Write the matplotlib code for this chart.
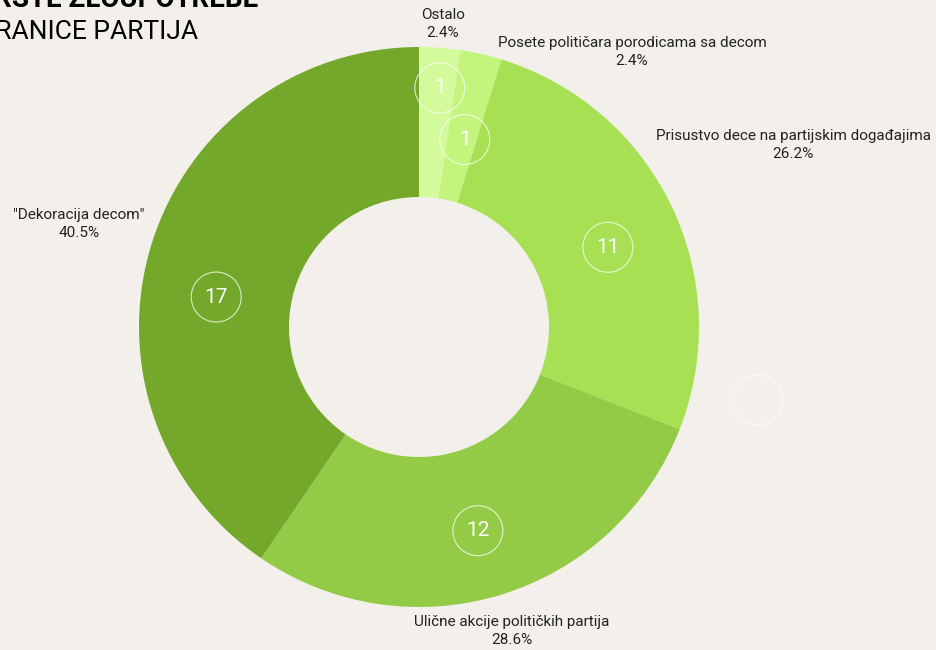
import matplotlib
matplotlib.use("Agg")
import matplotlib.pyplot as plt
import numpy as np

plt.rcParams['font.family'] = ['Roboto', 'DejaVu Sans']

# data
categories = ["Ostalo", "Posete političara porodicama sa decom",
              "Prisustvo dece na partijskim događajima",
              "Ulične akcije političkih partija", '"Dekoracija decom"']
counts = [1, 1, 11, 12, 17]
colors = ["#d3fa9b", "#c3f47c", "#a7e052", "#94cb46", "#74a82a"]

# label positions (pixels, top-left origin), bubble radius and place within wedge
label_pos = [(443, 24), (632, 52), (793, 145), (512, 631), (79, 224)]
bubble_r = [240, 193, 205, 212, 205]
bubble_frac = [0.58, 0.6, 0.53, 0.51, 0.44]

W, H = 936, 650
bg = "#f3f0ec"
fig = plt.figure(figsize=(W / 100, H / 100), dpi=100, facecolor=bg)
ax = fig.add_axes([0, 0, 1, 1])
ax.set_facecolor(bg)

cx, cy, R = 419, H - 327, 280
wedges, _ = ax.pie(counts, colors=colors, startangle=90, counterclock=False,
                   radius=R, center=(cx, cy), frame=True,
                   wedgeprops=dict(width=150, linewidth=0))
ax.set_xlim(0, W)
ax.set_ylim(0, H)
ax.set_aspect('equal')
ax.axis('off')

total = sum(counts)
for w, n, r, f, name, (lx, ly) in zip(wedges, counts, bubble_r, bubble_frac,
                                      categories, label_pos):
    # clockwise wedges: theta2 is the start, theta1 the end
    ang = np.deg2rad(w.theta2 - f * (w.theta2 - w.theta1))
    bx, by = cx + r * np.cos(ang), cy + r * np.sin(ang)
    ax.add_patch(plt.Circle((bx, by), 25, fill=False, ec=(1, 1, 1, 0.75), lw=0.8))
    ax.text(bx, by, str(n), color="white", fontsize=15, ha='center', va='center')
    ax.text(lx, H - ly, f"{name}\n{n / total * 100:.1f}%", fontsize=11,
            color="#222222", ha='center', va='center', linespacing=1.4)

# faint leftover bubble
ax.add_patch(plt.Circle((758, H - 400), 25, fill=False, ec=(1, 1, 1, 0.6), lw=0.8))

# title (cropped at top-left in the original)
ax.text(258, H - 7, "VRSTE ZLOUPOTREBE", fontsize=20, fontweight='bold',
        ha='right', va='baseline', color="black")
ax.text(198, H - 39, "STRANICE PARTIJA", fontsize=19, ha='right', va='baseline',
        color="black")

fig.savefig("out.png", dpi=100, facecolor=bg)
